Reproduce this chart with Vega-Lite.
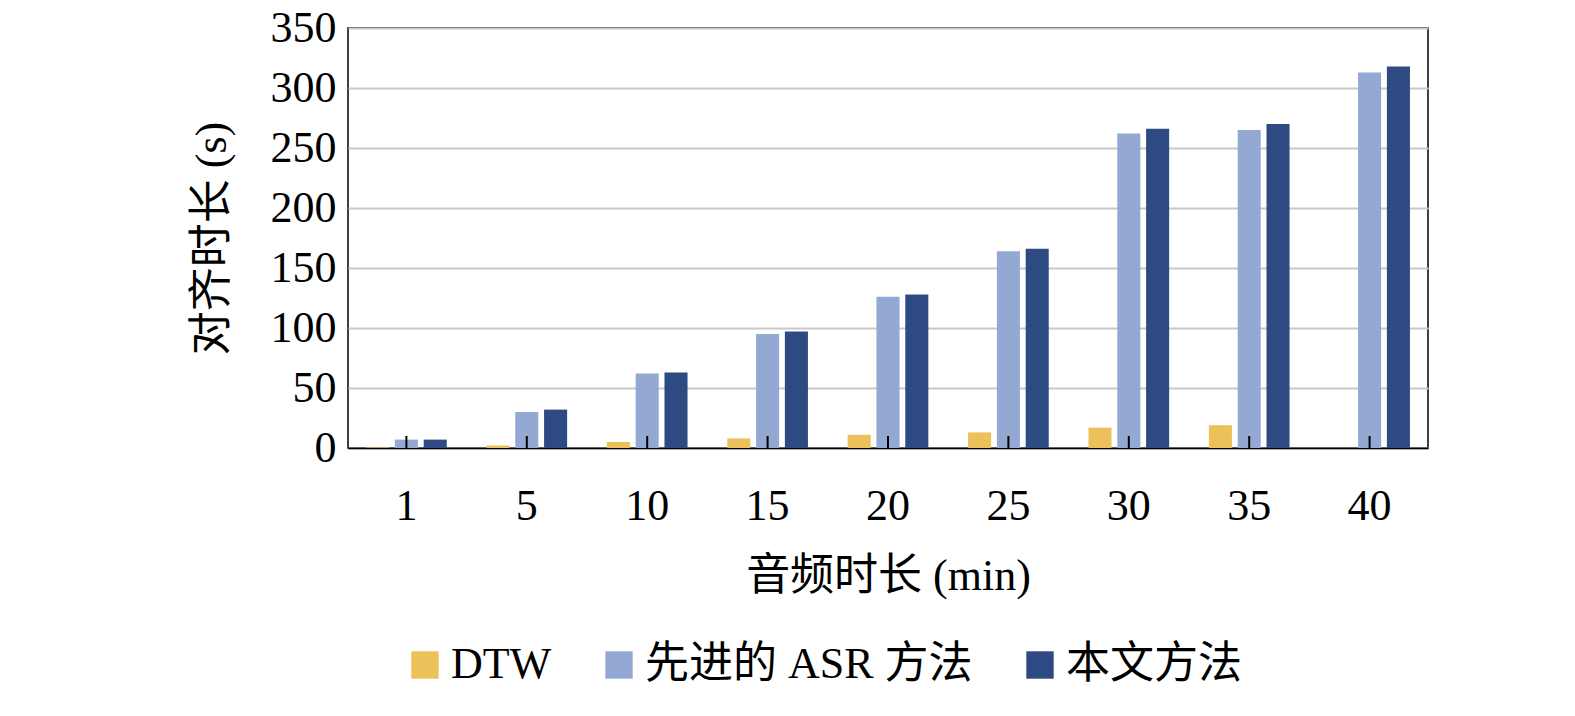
{
"$schema":"https://vega.github.io/schema/vega-lite/v6.json",
"width":1080,"height":420,
"autosize":{"type":"none"},
"padding":{"left":348,"top":28,"right":147,"bottom":268},
"background":"white",
"config":{"font":"Liberation Serif, Noto Sans CJK SC","view":{"stroke":"black","strokeWidth":1.5}},
"data":{"values":[
{"t":"1","m":"DTW","v":0.5},{"t":"1","m":"先进的 ASR 方法","v":7},{"t":"1","m":"本文方法","v":7},
{"t":"5","m":"DTW","v":2},{"t":"5","m":"先进的 ASR 方法","v":30},{"t":"5","m":"本文方法","v":32},
{"t":"10","m":"DTW","v":5},{"t":"10","m":"先进的 ASR 方法","v":62},{"t":"10","m":"本文方法","v":63},
{"t":"15","m":"DTW","v":8},{"t":"15","m":"先进的 ASR 方法","v":95},{"t":"15","m":"本文方法","v":97},
{"t":"20","m":"DTW","v":11},{"t":"20","m":"先进的 ASR 方法","v":126},{"t":"20","m":"本文方法","v":128},
{"t":"25","m":"DTW","v":13},{"t":"25","m":"先进的 ASR 方法","v":164},{"t":"25","m":"本文方法","v":166},
{"t":"30","m":"DTW","v":17},{"t":"30","m":"先进的 ASR 方法","v":262},{"t":"30","m":"本文方法","v":266},
{"t":"35","m":"DTW","v":19},{"t":"35","m":"先进的 ASR 方法","v":265},{"t":"35","m":"本文方法","v":270},
{"t":"40","m":"DTW","v":0},{"t":"40","m":"先进的 ASR 方法","v":313},{"t":"40","m":"本文方法","v":318}
]},
"layer":[
{"mark":{"type":"bar"},
"encoding":{
"x":{"field":"t","type":"nominal","sort":null,"scale":{"paddingInner":0.33,"paddingOuter":0.15},
"axis":{"title":"音频时长 (min)","titleFontSize":44,"titleFontWeight":"normal","titlePadding":26,"labelFontSize":44,"labelAngle":0,"labelPadding":36,"ticks":false,"domainColor":"black","domainWidth":1.5,"labelColor":"black","titleColor":"black"}},
"xOffset":{"field":"m","type":"nominal","sort":["DTW","先进的 ASR 方法","本文方法"],"scale":{"paddingInner":0.2}},
"y":{"field":"v","type":"quantitative","scale":{"domain":[0,350]},
"axis":{"title":"对齐时长 (s)","titleFontSize":44,"titleFontWeight":"normal","titlePadding":36,"labelFontSize":44,"tickCount":7,"ticks":false,"domain":false,"gridColor":"#c8c8c8","gridWidth":2,"labelColor":"black","titleColor":"black","labelPadding":12}},
"color":{"field":"m","type":"nominal","sort":["DTW","先进的 ASR 方法","本文方法"],
"scale":{"range":["#ecc05a","#93a8d2","#2e4a82"]},
"legend":{"title":null,"orient":"none","legendX":55,"legendY":615,"direction":"horizontal","labelFontSize":44,"labelLimit":0,"symbolType":"square","symbolSize":750,"symbolStrokeWidth":0,"columnPadding":45,"labelColor":"black"}}
}},
{"transform":[{"filter":"datum.m=='先进的 ASR 方法'"}],
"mark":{"type":"rule","color":"black","strokeWidth":2},
"encoding":{"x":{"field":"t","type":"nominal","sort":null,"bandPosition":0.5},"y":{"datum":0},"y2":{"datum":10}}}
]
}
